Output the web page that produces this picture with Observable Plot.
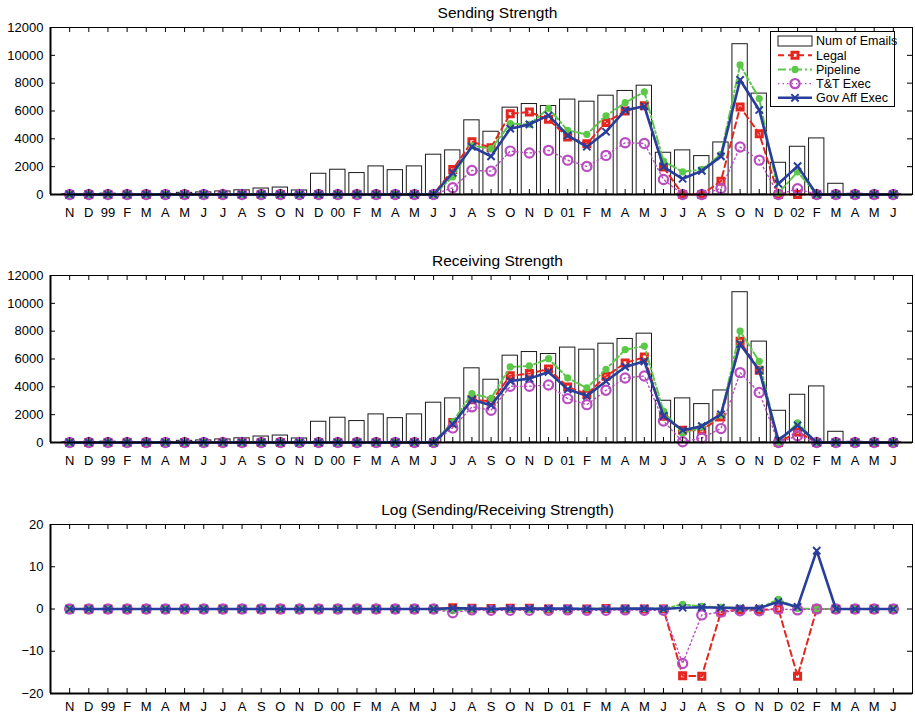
<!DOCTYPE html>
<html>
<head>
<meta charset="utf-8">
<script src="https://cdn.jsdelivr.net/npm/d3@7"></script>
<script src="https://cdn.jsdelivr.net/npm/@observablehq/plot@0.6"></script>
<style>
  body { margin: 0; background: #fff; font-family: "Liberation Sans", Arial, sans-serif; }
  #chart { position: relative; width: 915px; height: 714px; overflow: hidden; }
  #chart > svg { position: absolute; left: 0; }
  #legend { position: absolute; left: 770px; top: 31px; width: 123px; height: 74px; border: 1px solid #000; background: #fff; }
  #legend svg { overflow: visible; }
</style>
</head>
<body>
<div id="chart"></div>
<script>
// ---- Data ----
const months = ["N","D","99","F","M","A","M","J","J","A","S","O","N","D","00","F","M","A","M","J","J","A","S","O","N","D","01","F","M","A","M","J","J","A","S","O","N","D","02","F","M","A","M","J"];

const numEmails = [10,10,60,20,20,30,120,150,220,300,430,500,290,1490,1780,1540,2020,1750,2020,2860,3170,5330,4510,6240,6500,6360,6820,6670,7100,7440,7820,3000,3170,2760,3740,10800,7250,2280,3430,4030,770,50,20,10];

const sendLegal    = [0,0,0,0,0,0,0,0,0,0,0,0,0,0,0,0,0,0,0,0,1800,3790,3360,5810,5930,5400,4130,3650,5180,6000,6380,1970,0,0,960,6290,4370,0,0,0,0,0,0,0];
const sendPipeline = [0,0,0,0,0,0,0,0,0,0,0,0,0,0,0,0,0,0,0,0,1270,3500,3290,5090,5040,6190,4610,4320,5660,6600,7370,2400,1630,1800,2880,9310,6890,100,1630,0,0,0,0,0];
const sendTT       = [0,0,0,0,0,0,0,0,0,0,0,0,0,0,0,0,0,0,0,0,480,1730,1680,3120,2980,3170,2470,2020,2810,3720,3670,1080,0,0,430,3410,2470,0,410,0,0,0,0,0];
const sendGov      = [0,0,0,0,0,0,0,0,0,0,0,0,0,0,0,0,0,0,0,0,1560,3430,2740,4730,5040,5690,4250,3430,4510,6050,6340,1990,1130,1700,2740,8230,6070,770,2040,0,0,0,0,0];

const recvLegal    = [0,0,0,0,0,0,0,0,0,0,0,0,0,0,0,0,0,0,0,0,1430,3080,2960,4800,4950,5280,3990,3470,4760,5710,6140,1890,880,880,1840,7270,5190,0,760,0,0,0,0,0];
const recvPipeline = [0,0,0,0,0,0,0,0,0,0,0,0,0,0,0,0,0,0,0,0,1480,3510,3180,5430,5500,6020,4640,3920,5260,6670,6930,2250,650,1120,1960,8010,5830,0,1410,0,0,0,0,0];
const recvTT       = [0,0,0,0,0,0,0,0,0,0,0,0,0,0,0,0,0,0,0,0,1050,2560,2320,4040,4040,4130,3150,2720,3750,4640,4780,1550,50,330,1000,5020,3590,0,480,0,0,0,0,0];
const recvGov      = [0,0,0,0,0,0,0,0,0,0,0,0,0,0,0,0,0,0,0,0,1310,3080,2680,4420,4590,5070,3820,3350,4400,5430,5830,1910,880,1170,2030,7070,5190,170,1240,0,0,0,0,0];

const logLegal    = [0,0,0,0,0,0,0,0,0,0,0,0,0,0,0,0,0,0,0,0,0.3,0.2,0.1,0.2,0.2,0.0,0.0,0.0,0.1,0.0,0.0,0.0,-15.8,-15.9,-0.7,-0.1,-0.2,0.0,-15.9,0,0,0,0,0];
const logPipeline = [0,0,0,0,0,0,0,0,0,0,0,0,0,0,0,0,0,0,0,0,-0.4,0.0,0.0,-0.1,-0.1,0.0,0.0,0.1,0.1,0.0,0.1,0.1,1.1,0.6,0.4,0.2,0.2,2.3,0.1,0,0,0,0,0];
const logTT       = [0,0,0,0,0,0,0,0,0,0,0,0,0,0,0,0,0,0,0,0,-0.9,-0.2,-0.3,-0.3,-0.3,-0.3,-0.2,-0.3,-0.3,-0.2,-0.3,-0.3,-12.9,-1.4,-0.7,-0.4,-0.4,0.0,-0.2,0,0,0,0,0];
const logGov      = [0,0,0,0,0,0,0,0,0,0,0,0,0,0,0,0,0,0,0,0,0.2,0.1,0.0,0.1,0.1,0.1,0.1,0.0,0.0,0.1,0.1,0.0,0.3,0.4,0.3,0.2,0.2,1.7,0.5,13.8,0,0,0,0];

const seriesNames = ["Legal", "Pipeline", "T&T Exec", "Gov Aff Exec"];
const strengthTicks = [0,2000,4000,6000,8000,10000,12000];
const logTicks = [-20,-10,0,10,20];

// ---- Styles ----
const styles = [
  {color: "#e5261e", dash: "6,4", width: 2, symbol: "square", r: 3.4, fill: "none", sw: 3},
  {color: "#5cc84a", dash: "8,3,2,3", width: 2, symbol: "circle", r: 3.6, fill: "#5cc84a", sw: 0},
  {color: "#b84cc0", dash: "1.5,3", width: 1.4, symbol: "circle", r: 4.6, fill: "none", sw: 2.2},
  {color: "#283d9c", dash: null, width: 2.6, symbol: "times", r: 3.4, fill: "none", sw: 2}
];

const idx = months.map((_, i) => i);
const W = 915, ML = 50, MR = 3;
const plotW = W - ML - MR;
const fmt = d => d < 0 ? "\u2212" + Math.abs(d) : String(d);

function panel({title, bars, series, yDomain, yTicks, top, height, mt, mb, labelPad}) {
  const plotH = height - mt - mb;
  const marks = [];
  if (bars) {
    marks.push(Plot.rect(idx, {x1: i => i - 0.4, x2: i => i + 0.4, y1: 0, y2: i => bars[i],
      fill: "white", stroke: "#1a1a1a", strokeWidth: 1}));
  }
  series.forEach((vals, k) => {
    const s = styles[k];
    marks.push(Plot.line(idx, {x: i => i, y: i => vals[i], stroke: s.color, strokeWidth: s.width,
      strokeDasharray: s.dash, curve: "linear"}));
    marks.push(Plot.dot(idx, {x: i => i, y: i => vals[i], symbol: s.symbol, r: s.r,
      fill: s.fill, stroke: s.sw ? s.color : "none", strokeWidth: s.sw}));
  });
  // inward ticks
  marks.push(Plot.tickX(idx, {x: i => i, insetTop: plotH - 5, stroke: "#000"}));
  marks.push(Plot.tickX(idx, {x: i => i, insetBottom: plotH - 5, stroke: "#000"}));
  marks.push(Plot.tickY(yTicks, {y: d => d, insetRight: plotW - 5, stroke: "#000"}));
  marks.push(Plot.tickY(yTicks, {y: d => d, insetLeft: plotW - 5, stroke: "#000"}));
  marks.push(Plot.frame({stroke: "#000", strokeWidth: 1}));
  marks.push(Plot.ruleX([-1], {stroke: "#000", strokeWidth: 2}));
  marks.push(Plot.ruleY([yDomain[0]], {stroke: "#000", strokeWidth: 2}));
  marks.push(Plot.axisX({ticks: idx, tickFormat: i => months[i], tickSize: 0, tickPadding: labelPad, label: null, fontSize: 13}));
  marks.push(Plot.axisY({ticks: yTicks, tickFormat: fmt, tickSize: 0, tickPadding: 7, label: null, fontSize: 13}));
  marks.push(Plot.text([title], {frameAnchor: "top", lineAnchor: "middle", dy: -14, dx: 16, fontSize: 15.5, fill: "#000"}));

  const svg = Plot.plot({
    width: W, height,
    marginLeft: ML, marginRight: MR, marginTop: mt, marginBottom: mb,
    style: {fontFamily: "'Liberation Sans', Arial, sans-serif", fontSize: "13px", color: "#000", background: "transparent"},
    x: {type: "linear", domain: [-1, 44]},
    y: {domain: yDomain},
    marks
  });
  svg.style.top = top + "px";
  return svg;
}

const chart = document.getElementById("chart");
chart.append(panel({title: "Sending Strength", bars: numEmails,
  series: [sendLegal, sendPipeline, sendTT, sendGov], yDomain: [0, 12000], yTicks: strengthTicks,
  top: 0, height: 230, mt: 27, mb: 36, labelPad: 13}));
chart.append(panel({title: "Receiving Strength", bars: numEmails,
  series: [recvLegal, recvPipeline, recvTT, recvGov], yDomain: [0, 12000], yTicks: strengthTicks,
  top: 248, height: 230, mt: 27, mb: 36, labelPad: 13}));
chart.append(panel({title: "Log (Sending/Receiving Strength)", bars: null,
  series: [logLegal, logPipeline, logTT, logGov], yDomain: [-20, 20], yTicks: logTicks,
  top: 497, height: 217, mt: 27, mb: 21, labelPad: 8}));

// ---- Legend ----
const legend = document.createElement("div");
legend.id = "legend";
chart.append(legend);
const lsvg = d3.select(legend).append("svg").attr("width", 123).attr("height", 74)
  .style("font-family", "'Liberation Sans', Arial, sans-serif").style("font-size", "12.5px");
const entries = ["Num of Emails", ...seriesNames];
entries.forEach((name, j) => {
  const y = 9 + j * 14.2;
  const g = lsvg.append("g");
  if (j === 0) {
    g.append("rect").attr("x", 7).attr("y", y - 5).attr("width", 34).attr("height", 10)
      .attr("fill", "white").attr("stroke", "#1a1a1a");
  } else {
    const s = styles[j - 1];
    g.append("line").attr("x1", 7).attr("x2", 41).attr("y1", y).attr("y2", y)
      .attr("stroke", s.color).attr("stroke-width", s.width).attr("stroke-dasharray", s.dash);
    const sym = {square: d3.symbolSquare, circle: d3.symbolCircle, times: d3.symbolTimes}[s.symbol];
    g.append("path").attr("transform", `translate(24,${y})`)
      .attr("d", d3.symbol(sym, Math.PI * s.r * s.r)())
      .attr("fill", s.fill).attr("stroke", s.sw ? s.color : "none").attr("stroke-width", s.sw);
  }
  g.append("text").attr("x", 45).attr("y", y).attr("dy", "0.35em").text(name);
});
</script>
</body>
</html>
